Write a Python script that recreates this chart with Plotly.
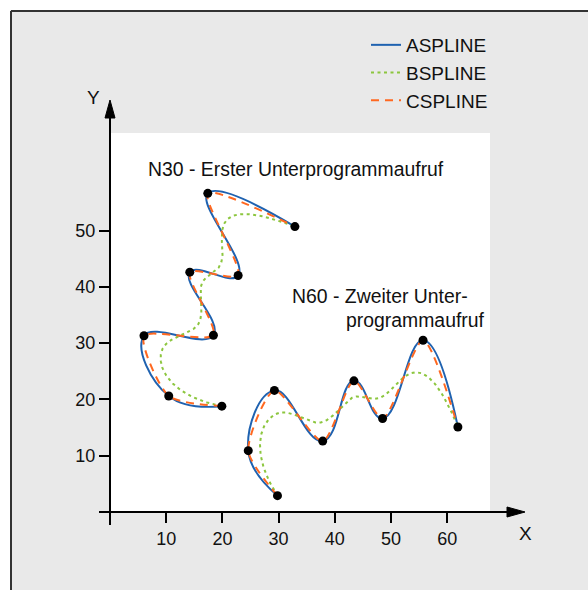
import numpy as np
import plotly.graph_objects as go

# ---------------- data ----------------
n30_x = [19.9, 10.45, 6.05, 18.4, 14.2, 22.8, 17.4, 32.9]
n30_y = [18.8, 20.6, 31.3, 31.4, 42.6, 42.0, 56.6, 50.7]
n60_x = [29.8, 24.6, 29.25, 37.85, 43.4, 48.5, 55.7, 61.9]
n60_y = [2.9, 10.9, 21.6, 12.6, 23.3, 16.6, 30.5, 15.1]
series_names = ["ASPLINE", "BSPLINE", "CSPLINE"]
x_ticks = [10, 20, 30, 40, 50, 60]
y_ticks = [10, 20, 30, 40, 50]
label_n30 = "N30 - Erster Unterprogrammaufruf"
label_n60_a = "N60 - Zweiter Unter-"
label_n60_b = "programmaufruf"
axis_x_label = "X"
axis_y_label = "Y"

# ---------------- layout geometry (pixels) ----------------
OFF = 0                      # body margin removed via post_script
W, H = 588, 590
ML, MR, MT, MB = 110, 98, 133, 78
PW = W - ML - MR
PH = H - MT - MB
X_RANGE = [0, PW / 5.62]
Y_RANGE = [0, PH / 5.63]


def PX(px):
    """screen x (window pixels) -> paper x"""
    return (px - OFF - ML) / PW


def PY(py):
    """screen y (window pixels) -> paper y"""
    return (H - MB - (py - OFF)) / PH


def bspline(xs, ys, k=3, n=300):
    """Clamped cubic B-spline of the control polygon (de Boor)."""
    P = np.column_stack([xs, ys]).astype(float)
    m = len(P)
    knots = np.concatenate([[0] * k, np.arange(0, m - k + 1), [m - k] * k]).astype(float)
    out = []
    for t in np.linspace(0, m - k, n):
        s = int(np.searchsorted(knots, t, side="right") - 1)
        s = min(s, m - 1)
        d = [P[j + s - k].copy() for j in range(k + 1)]
        for r in range(1, k + 1):
            for j in range(k, r - 1, -1):
                den = knots[j + 1 + s - r] - knots[j + s - k]
                a = 0.0 if den == 0 else (t - knots[j + s - k]) / den
                d[j] = (1 - a) * d[j - 1] + a * d[j]
        out.append(d[k])
    out = np.array(out)
    return list(out[:, 0]), list(out[:, 1])


def join(a, b):
    return list(a) + [None] + list(b)


b1x, b1y = bspline(n30_x, n30_y)
b2x, b2y = bspline(n60_x, n60_y)

BLUE = "#1f62b0"
GREEN = "#8cc63e"
ORANGE = "#ff6820"

fig = go.Figure()
fig.add_trace(go.Scatter(
    x=join(n30_x, n60_x), y=join(n30_y, n60_y), mode="lines", name=series_names[0],
    line=dict(color=BLUE, width=2, shape="spline", smoothing=1.3), connectgaps=False))
fig.add_trace(go.Scatter(
    x=join(b1x, b2x), y=join(b1y, b2y), mode="lines", name=series_names[1],
    line=dict(color=GREEN, width=2, dash="3px,3.5px"), connectgaps=False))
fig.add_trace(go.Scatter(
    x=join(n30_x, n60_x), y=join(n30_y, n60_y), mode="lines", name=series_names[2],
    line=dict(color=ORANGE, width=2, shape="spline", smoothing=0.7, dash="8px,6px"),
    connectgaps=False))
fig.add_trace(go.Scatter(
    x=join(n30_x, n60_x), y=join(n30_y, n60_y), mode="markers", showlegend=False,
    marker=dict(color="black", size=9), hoverinfo="skip"))

shapes = [
    # white outside the frame
    dict(type="rect", xref="paper", yref="paper", x0=PX(-20), x1=PX(10), y0=PY(-20), y1=PY(620),
         fillcolor="white", line=dict(width=0), layer="below"),
    dict(type="rect", xref="paper", yref="paper", x0=PX(-20), x1=PX(620), y0=PY(-20), y1=PY(10),
         fillcolor="white", line=dict(width=0), layer="below"),
    # frame border
    dict(type="line", xref="paper", yref="paper", x0=PX(11), x1=PX(620), y0=PY(11), y1=PY(11),
         line=dict(color="#333333", width=2)),
    dict(type="line", xref="paper", yref="paper", x0=PX(11), x1=PX(11), y0=PY(11), y1=PY(620),
         line=dict(color="#333333", width=2)),
    # axes
    dict(type="line", xref="paper", yref="paper", x0=PX(99), x1=PX(512), y0=0, y1=0,
         line=dict(color="black", width=2)),
    dict(type="line", xref="paper", yref="paper", x0=0, x1=0, y0=PY(525), y1=PY(112),
         line=dict(color="black", width=2)),
    dict(type="path", xref="paper", yref="paper",
         path=f"M {PX(525)} 0 L {PX(507)} {PY(507)} L {PX(507)} {PY(517)} Z",
         fillcolor="black", line=dict(color="black", width=1)),
    dict(type="path", xref="paper", yref="paper",
         path=f"M 0 {PY(100)} L {PX(105)} {PY(118)} L {PX(115)} {PY(118)} Z",
         fillcolor="black", line=dict(color="black", width=1)),
]

FONT = "Liberation Sans, Arial, sans-serif"
annotations = [
    dict(text=label_n30, xref="paper", yref="paper", x=PX(146), y=PY(169),
         xanchor="left", yanchor="middle", showarrow=False, font=dict(size=19.4)),
    dict(text=label_n60_a, xref="paper", yref="paper", x=PX(290), y=PY(296),
         xanchor="left", yanchor="middle", showarrow=False, font=dict(size=19.4)),
    dict(text=label_n60_b, xref="paper", yref="paper", x=PX(344), y=PY(320),
         xanchor="left", yanchor="middle", showarrow=False, font=dict(size=19.4)),
    dict(text=axis_x_label, xref="paper", yref="paper", x=PX(525), y=PY(533),
         xanchor="center", yanchor="middle", showarrow=False, font=dict(size=19)),
    dict(text=axis_y_label, xref="paper", yref="paper", x=PX(93), y=PY(98),
         xanchor="center", yanchor="middle", showarrow=False, font=dict(size=19)),
]

fig.update_layout(
    width=W, height=H, autosize=False,
    margin=dict(l=ML, r=MR, t=MT, b=MB, pad=0),
    paper_bgcolor="#e9e9e9", plot_bgcolor="white",
    font=dict(family=FONT, size=18, color="#111111"),
    shapes=shapes, annotations=annotations,
    showlegend=True,
    legend=dict(x=PX(366), y=PY(26), xanchor="left", yanchor="top",
                bgcolor="rgba(0,0,0,0)", borderwidth=0, font=dict(size=19),
                traceorder="normal"),
    xaxis=dict(range=X_RANGE, showgrid=False, zeroline=False, showline=False,
               tickvals=x_ticks, ticks="outside", ticklen=10, tickwidth=2,
               tickcolor="black", tickfont=dict(size=18)),
    yaxis=dict(range=Y_RANGE, showgrid=False, zeroline=False, showline=False,
               tickvals=y_ticks, ticks="outside", ticklen=10, tickwidth=2,
               tickcolor="black", tickfont=dict(size=18)),
)

fig.write_html(
    "out.html",
    config={"displayModeBar": False},
    post_script="document.body.style.margin='0';document.body.style.overflow='hidden';",
)
